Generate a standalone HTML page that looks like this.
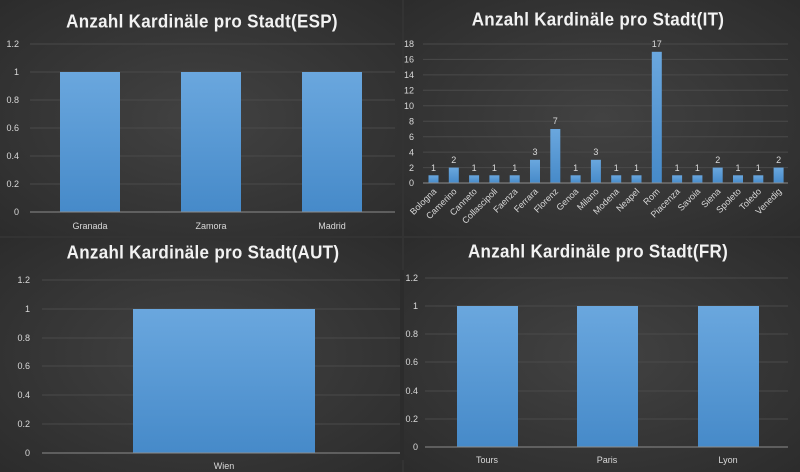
<!DOCTYPE html>
<html><head><meta charset="utf-8"><style>
html,body{margin:0;padding:0;background:#333}
svg{display:block}
text{font-family:"Liberation Sans",sans-serif;fill:#d9d9d9}
.t{font-weight:bold;fill:#f2f2f2;font-size:17px;letter-spacing:0.3px}
.y{font-size:9px;text-anchor:end}
.x{font-size:9px;text-anchor:middle}
.g{stroke:#4a4a4a;stroke-width:1}
.a{stroke:#8c8c8c;stroke-width:1}
</style></head><body>
<svg width="800" height="472" viewBox="0 0 800 472">
<defs>
<radialGradient id="bg" cx="50%" cy="50%" r="70%"><stop offset="0" stop-color="#424242"/><stop offset="1" stop-color="#2c2c2c"/></radialGradient>
<linearGradient id="b" x1="0" y1="0" x2="0" y2="1"><stop offset="0" stop-color="#6aa7de"/><stop offset="1" stop-color="#468ac9"/></linearGradient>
</defs>
<rect x="0" y="0" width="402" height="236" fill="url(#bg)"/>
<rect x="404" y="0" width="396" height="236" fill="url(#bg)"/>
<rect x="0" y="238" width="402" height="234" fill="url(#bg)"/>
<rect x="404" y="238" width="396" height="234" fill="url(#bg)"/>

<!-- ESP -->
<text class="t" x="202" y="27" text-anchor="middle" transform="translate(0,0) scale(1,1.1)" style="transform-origin:202px 20px">Anzahl Kardinäle pro Stadt(ESP)</text>
<g class="g"><line x1="30" y1="44" x2="395" y2="44"/><line x1="30" y1="72" x2="395" y2="72"/><line x1="30" y1="100" x2="395" y2="100"/><line x1="30" y1="128" x2="395" y2="128"/><line x1="30" y1="156" x2="395" y2="156"/><line x1="30" y1="184" x2="395" y2="184"/></g>
<g><text class="y" x="19" y="47">1.2</text><text class="y" x="19" y="75">1</text><text class="y" x="19" y="103">0.8</text><text class="y" x="19" y="131">0.6</text><text class="y" x="19" y="159">0.4</text><text class="y" x="19" y="187">0.2</text><text class="y" x="19" y="215">0</text></g>
<rect x="60" y="72" width="60" height="140" fill="url(#b)"/><rect x="181" y="72" width="60" height="140" fill="url(#b)"/><rect x="302" y="72" width="60" height="140" fill="url(#b)"/>
<line class="a" x1="30" y1="212" x2="395" y2="212"/>
<text class="x" x="90" y="229">Granada</text><text class="x" x="211" y="229">Zamora</text><text class="x" x="332" y="229">Madrid</text>

<!-- IT -->
<text class="t" x="598" y="25" text-anchor="middle" style="transform-origin:598px 18px;transform:scaleY(1.1)">Anzahl Kardinäle pro Stadt(IT)</text>
<g class="g">
<line x1="423" y1="44" x2="788" y2="44"/><line x1="423" y1="59.4" x2="788" y2="59.4"/><line x1="423" y1="74.9" x2="788" y2="74.9"/><line x1="423" y1="90.3" x2="788" y2="90.3"/><line x1="423" y1="105.8" x2="788" y2="105.8"/><line x1="423" y1="121.2" x2="788" y2="121.2"/><line x1="423" y1="136.7" x2="788" y2="136.7"/><line x1="423" y1="152.1" x2="788" y2="152.1"/><line x1="423" y1="167.6" x2="788" y2="167.6"/></g>
<g style="font-size:8.5px">
<text class="y" x="414" y="47">18</text><text class="y" x="414" y="62.5">16</text><text class="y" x="414" y="78">14</text><text class="y" x="414" y="93.5">12</text><text class="y" x="414" y="109">10</text><text class="y" x="414" y="124.5">8</text><text class="y" x="414" y="140">6</text><text class="y" x="414" y="155.5">4</text><text class="y" x="414" y="171">2</text><text class="y" x="414" y="186">0</text></g>
<g fill="url(#b)">
<rect x="428.5" y="175.3" width="10" height="7.7"/>
<rect x="448.8" y="167.6" width="10" height="15.4"/>
<rect x="469.1" y="175.3" width="10" height="7.7"/>
<rect x="489.4" y="175.3" width="10" height="7.7"/>
<rect x="509.7" y="175.3" width="10" height="7.7"/>
<rect x="530" y="159.8" width="10" height="23.2"/>
<rect x="550.3" y="129" width="10" height="54"/>
<rect x="570.6" y="175.3" width="10" height="7.7"/>
<rect x="590.9" y="159.8" width="10" height="23.2"/>
<rect x="611.2" y="175.3" width="10" height="7.7"/>
<rect x="631.5" y="175.3" width="10" height="7.7"/>
<rect x="651.8" y="51.8" width="10" height="131.2"/>
<rect x="672.1" y="175.3" width="10" height="7.7"/>
<rect x="692.4" y="175.3" width="10" height="7.7"/>
<rect x="712.7" y="167.6" width="10" height="15.4"/>
<rect x="733" y="175.3" width="10" height="7.7"/>
<rect x="753.3" y="175.3" width="10" height="7.7"/>
<rect x="773.6" y="167.6" width="10" height="15.4"/>
</g>
<line class="a" x1="423" y1="183" x2="788" y2="183"/>
<g class="x" style="font-size:9px;text-anchor:middle">
<text x="433.5" y="171">1</text><text x="453.8" y="163">2</text><text x="474.1" y="171">1</text><text x="494.4" y="171">1</text><text x="514.7" y="171">1</text><text x="535" y="155">3</text><text x="555.3" y="124">7</text><text x="575.6" y="171">1</text><text x="595.9" y="155">3</text><text x="616.2" y="171">1</text><text x="636.5" y="171">1</text><text x="656.8" y="47">17</text><text x="677.1" y="171">1</text><text x="697.4" y="171">1</text><text x="717.7" y="163">2</text><text x="738" y="171">1</text><text x="758.3" y="171">1</text><text x="778.6" y="163">2</text>
</g>
<g style="font-size:9px;text-anchor:end">
<text transform="translate(437,192) rotate(-45)">Bologna</text>
<text transform="translate(457.3,192) rotate(-45)">Camerino</text>
<text transform="translate(477.6,192) rotate(-45)">Canneto</text>
<text transform="translate(497.9,192) rotate(-45)">Collascipoli</text>
<text transform="translate(518.2,192) rotate(-45)">Faenza</text>
<text transform="translate(538.5,192) rotate(-45)">Ferrara</text>
<text transform="translate(558.8,192) rotate(-45)">Florenz</text>
<text transform="translate(579.1,192) rotate(-45)">Genoa</text>
<text transform="translate(599.4,192) rotate(-45)">Milano</text>
<text transform="translate(619.7,192) rotate(-45)">Modena</text>
<text transform="translate(640,192) rotate(-45)">Neapel</text>
<text transform="translate(660.3,192) rotate(-45)">Rom</text>
<text transform="translate(680.6,192) rotate(-45)">Piacenza</text>
<text transform="translate(700.9,192) rotate(-45)">Savoia</text>
<text transform="translate(721.2,192) rotate(-45)">Siena</text>
<text transform="translate(741.5,192) rotate(-45)">Spoleto</text>
<text transform="translate(761.8,192) rotate(-45)">Toledo</text>
<text transform="translate(782.1,192) rotate(-45)">Venedig</text>
</g>

<!-- AUT -->
<text class="t" x="203" y="258" text-anchor="middle" style="transform-origin:203px 251px;transform:scaleY(1.1)">Anzahl Kardinäle pro Stadt(AUT)</text>
<g class="g"><line x1="42" y1="280" x2="400" y2="280"/><line x1="42" y1="309" x2="400" y2="309"/><line x1="42" y1="338" x2="400" y2="338"/><line x1="42" y1="366" x2="400" y2="366"/><line x1="42" y1="395" x2="400" y2="395"/><line x1="42" y1="424" x2="400" y2="424"/></g>
<g><text class="y" x="30" y="283">1.2</text><text class="y" x="30" y="312">1</text><text class="y" x="30" y="341">0.8</text><text class="y" x="30" y="369">0.6</text><text class="y" x="30" y="398">0.4</text><text class="y" x="30" y="427">0.2</text><text class="y" x="30" y="456">0</text></g>
<rect x="133" y="309" width="182" height="144" fill="url(#b)"/>
<line class="a" x1="42" y1="453" x2="400" y2="453"/>
<text class="x" x="224" y="469">Wien</text>

<!-- FR -->
<text class="t" x="598" y="257" text-anchor="middle" style="transform-origin:598px 250px;transform:scaleY(1.1)">Anzahl Kardinäle pro Stadt(FR)</text>
<g class="g"><line x1="425" y1="278" x2="788" y2="278"/><line x1="425" y1="306" x2="788" y2="306"/><line x1="425" y1="334" x2="788" y2="334"/><line x1="425" y1="362" x2="788" y2="362"/><line x1="425" y1="391" x2="788" y2="391"/><line x1="425" y1="419" x2="788" y2="419"/></g>
<g><text class="y" x="418" y="281">1.2</text><text class="y" x="418" y="309">1</text><text class="y" x="418" y="337">0.8</text><text class="y" x="418" y="365">0.6</text><text class="y" x="418" y="394">0.4</text><text class="y" x="418" y="422">0.2</text><text class="y" x="418" y="450">0</text></g>
<rect x="400" y="270" width="4" height="190" fill="#2c2c2c"/>
<rect x="457" y="306" width="61" height="141" fill="url(#b)"/><rect x="577" y="306" width="61" height="141" fill="url(#b)"/><rect x="698" y="306" width="61" height="141" fill="url(#b)"/>
<line class="a" x1="425" y1="447" x2="788" y2="447"/>
<text class="x" x="487" y="463">Tours</text><text class="x" x="607" y="463">Paris</text><text class="x" x="728" y="463">Lyon</text>
</svg>
</body></html>
